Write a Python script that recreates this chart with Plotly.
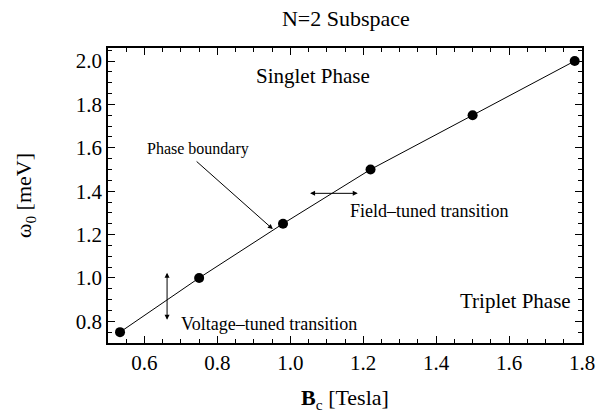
import plotly.graph_objects as go

# Data
b_field = [0.533, 0.75, 0.98, 1.22, 1.5, 1.78]     # B_c [Tesla]
omega0 = [0.75, 1.0, 1.25, 1.5, 1.75, 2.0]          # omega_0 [meV]

x_ticks = [0.6, 0.8, 1.0, 1.2, 1.4, 1.6, 1.8]
y_ticks = [0.8, 1.0, 1.2, 1.4, 1.6, 1.8, 2.0]

FONT = "Liberation Serif"

fig = go.Figure()
fig.add_trace(go.Scatter(
    x=b_field, y=omega0, mode="lines+markers",
    line=dict(color="black", width=1),
    marker=dict(color="black", size=10),
    showlegend=False,
))

ann = []
# text labels
ann.append(dict(x=0.9, y=1.93, text="Singlet Phase", showarrow=False,
                font=dict(size=21, family=FONT), xanchor="left", yanchor="middle"))
ann.append(dict(x=1.775, y=0.894, text="Triplet Phase", showarrow=False,
                font=dict(size=21, family=FONT), xanchor="right", yanchor="middle"))
ann.append(dict(x=0.601, y=1.594, text="Phase boundary", showarrow=False,
                font=dict(size=16, family=FONT), xanchor="left", yanchor="middle"))
ann.append(dict(x=1.158, y=1.31, text="Field\u2013tuned transition", showarrow=False,
                font=dict(size=18, family=FONT), xanchor="left", yanchor="middle"))
ann.append(dict(x=0.695, y=0.787, text="Voltage\u2013tuned transition", showarrow=False,
                font=dict(size=18, family=FONT), xanchor="left", yanchor="middle"))
# arrows
ann.append(dict(x=0.952, y=1.225, ax=0.739, ay=1.543, xref="x", yref="y",
                axref="x", ayref="y", text="", showarrow=True,
                arrowhead=2, arrowsize=1, arrowwidth=1, arrowcolor="black"))
ann.append(dict(x=1.185, y=1.39, ax=1.05, ay=1.39, xref="x", yref="y",
                axref="x", ayref="y", text="", showarrow=True, arrowside="end+start",
                arrowhead=2, startarrowhead=2, arrowsize=1, startarrowsize=1,
                arrowwidth=1, arrowcolor="black"))
ann.append(dict(x=0.662, y=1.024, ax=0.662, ay=0.80, xref="x", yref="y",
                axref="x", ayref="y", text="", showarrow=True, arrowside="end+start",
                arrowhead=2, startarrowhead=2, arrowsize=1, startarrowsize=1,
                arrowwidth=1, arrowcolor="black"))

axis_common = dict(
    showline=True, linecolor="black", linewidth=1.5, mirror="allticks",
    ticks="inside", ticklen=7, tickwidth=1, tickcolor="black",
    showgrid=False, zeroline=False,
    tickfont=dict(size=21, family=FONT, color="black"),
    minor=dict(ticks="inside", ticklen=4, tickwidth=1, tickcolor="black", dtick=0.05),
)

fig.update_layout(
    width=611, height=417,
    margin=dict(l=108, r=29, t=48, b=74),
    paper_bgcolor="white", plot_bgcolor="white",
    font=dict(family=FONT, color="black"),
    title=dict(text="N=2 Subspace", x=0.566, xanchor="center", y=0.957, yanchor="middle",
               font=dict(size=22, family=FONT, color="black")),
    xaxis=dict(range=[0.5, 1.8], tickvals=x_ticks,
               ticktext=[f"{v:.1f}" for v in x_ticks],
               title=dict(text="<b>B</b><sub>c</sub> [Tesla]",
                          font=dict(size=22, family=FONT), standoff=16),
               **axis_common),
    yaxis=dict(range=[0.7, 2.06], tickvals=y_ticks,
               ticktext=[f"{v:.1f}" for v in y_ticks],
               title=dict(text="\u03c9<sub>0</sub> [meV]",
                          font=dict(size=22, family=FONT), standoff=38),
               **axis_common),
    annotations=ann,
)

fig.write_html("out.html", config={"displayModeBar": False},
               post_script="document.body.style.margin='0px';")
